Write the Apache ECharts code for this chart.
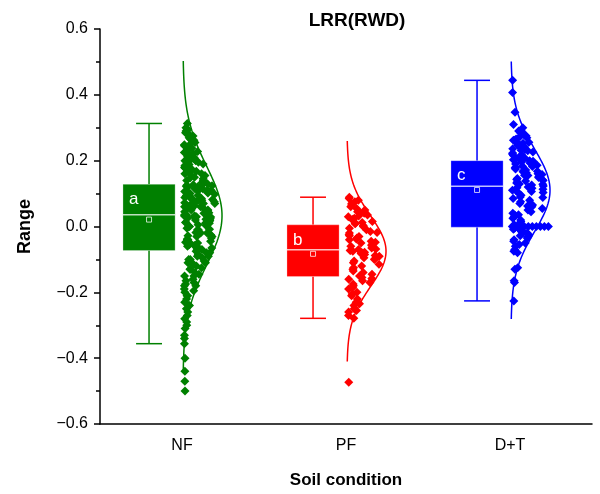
<!DOCTYPE html>
<html><head><meta charset="utf-8">
<script src="https://cdn.jsdelivr.net/npm/echarts@6/dist/echarts.min.js"></script>
<style>html,body{margin:0;padding:0;background:#fff}#c{width:600px;height:494px}</style>
</head><body><div id="c"></div>
<script>
// ---------- data ----------
const categories = ['NF', 'PF', 'D+T'];
const groupLetters = ['a', 'b', 'c'];
const colors = ['#008000', '#ff0000', '#0000ff'];
const boxMin    = [-0.356, -0.279, -0.226];
const boxQ1     = [-0.073, -0.152, -0.002];
const boxMedian = [ 0.036, -0.071,  0.122];
const boxQ3     = [ 0.128,  0.005,  0.200];
const boxMax    = [ 0.313,  0.089,  0.444];
const boxMean   = [ 0.021, -0.083,  0.111];
const fitMean   = [ 0.033, -0.075,  0.110];
const fitSD     = [ 0.150,  0.107,  0.125];
const yTicks = [-0.6, -0.4, -0.2, 0.0, 0.2, 0.4, 0.6];

const nfValues = [
  -0.50, -0.47, -0.44, -0.40, -0.356, -0.34, -0.33, -0.31, -0.30,
  -0.29, -0.28, -0.27, -0.26, -0.25, -0.24, -0.24, -0.23, -0.22, -0.21, -0.21, -0.20,
  -0.19, -0.18, -0.18, -0.17, -0.16, -0.15, -0.15, -0.14, -0.13, -0.13, -0.12, -0.11, -0.11, -0.10, -0.10, -0.09, -0.09, -0.08, -0.08,
  -0.07, -0.07, -0.065, -0.06, -0.06, -0.055, -0.05, -0.05, -0.045, -0.04, -0.04, -0.035, -0.03, -0.03, -0.025, -0.02, -0.02, -0.015, -0.01, -0.01,
  -0.005, 0.0, 0.0, 0.005, 0.01, 0.01, 0.012, 0.015, 0.018, 0.02, 0.02, 0.022, 0.025, 0.028, 0.03, 0.03, 0.032, 0.034, 0.035, 0.035,
  0.04, 0.04, 0.045, 0.048, 0.05, 0.05, 0.055, 0.06, 0.06, 0.062, 0.065, 0.068, 0.07, 0.07, 0.072, 0.075, 0.08, 0.08, 0.082, 0.085,
  0.09, 0.09, 0.092, 0.095, 0.098, 0.10, 0.10, 0.102, 0.105, 0.108, 0.11, 0.11, 0.112, 0.115, 0.118, 0.12, 0.12, 0.122, 0.125, 0.127,
  0.13, 0.135, 0.14, 0.14, 0.145, 0.15, 0.155, 0.16, 0.16, 0.165, 0.17, 0.175, 0.18, 0.18, 0.185, 0.19, 0.195, 0.20, 0.20, 0.205,
  0.21, 0.215, 0.22, 0.22, 0.225, 0.23, 0.235, 0.24, 0.245, 0.25, 0.255, 0.26, 0.265, 0.27, 0.275, 0.28, 0.285, 0.29, 0.30, 0.313,
  -0.195, -0.175, -0.165, -0.145, -0.125, -0.115, -0.105, -0.095, -0.085, -0.075,
  -0.068, -0.058, -0.048, -0.038, -0.028, -0.018, -0.008, 0.003, 0.013, 0.024, 0.029, 0.033,
  0.042, 0.052, 0.058, 0.064, 0.074, 0.078, 0.088, 0.094, 0.104, 0.106, 0.114, 0.117, 0.124, 0.126,
  0.133, 0.148, 0.158, 0.168, 0.178, 0.188, 0.198, 0.212, 0.228, 0.238, 0.248, 0.262, 0.278, 0.295
];
const pfValues = [
  -0.473, -0.279, -0.27, -0.26, -0.255, -0.25, -0.24, -0.235, -0.23, -0.22, -0.21, -0.205, -0.20, -0.19, -0.185, -0.18, -0.175, -0.17, -0.165, -0.16, -0.158, -0.155,
  -0.15, -0.145, -0.14, -0.135, -0.13, -0.125, -0.12, -0.115, -0.11, -0.105, -0.10, -0.098, -0.095, -0.09, -0.088, -0.085, -0.082, -0.08, -0.078, -0.075, -0.073, -0.072,
  -0.07, -0.068, -0.065, -0.06, -0.058, -0.055, -0.05, -0.048, -0.045, -0.04, -0.038, -0.035, -0.03, -0.028, -0.025, -0.02, -0.018, -0.015, -0.01, -0.005, 0.0, 0.003,
  0.008, 0.01, 0.012, 0.015, 0.02, 0.022, 0.025, 0.03, 0.032, 0.035, 0.04, 0.042, 0.045, 0.05, 0.055, 0.06, 0.065, 0.07, 0.075, 0.08, 0.085, 0.089
];
const dtValues = [
  -0.226, -0.17, -0.165, -0.13, -0.125, -0.08, -0.075, -0.07, -0.06, -0.055, -0.05, -0.045, -0.04, -0.035, -0.03, -0.028, -0.025, -0.02, -0.018, -0.015, -0.012, -0.01, -0.008, -0.005,
  0, 0, 0, 0, 0, 0, 0, 0, 0, 0,
  0.005, 0.01, 0.015, 0.02, 0.025, 0.03, 0.035, 0.04, 0.045, 0.05, 0.055, 0.06, 0.065, 0.07, 0.075, 0.08, 0.085, 0.09, 0.095, 0.10, 0.103, 0.106, 0.11, 0.113, 0.116, 0.12,
  0.123, 0.126, 0.129, 0.132, 0.135, 0.138, 0.14, 0.143, 0.146, 0.149, 0.152, 0.155, 0.158, 0.16, 0.163, 0.166, 0.169, 0.172, 0.175, 0.178, 0.18, 0.183, 0.186, 0.189, 0.19, 0.192, 0.194, 0.196, 0.198, 0.20,
  0.203, 0.206, 0.21, 0.213, 0.216, 0.22, 0.223, 0.226, 0.23, 0.233, 0.236, 0.24, 0.243, 0.246, 0.25, 0.253, 0.256, 0.26, 0.263, 0.266, 0.27, 0.273, 0.276, 0.28, 0.285, 0.29, 0.30, 0.347, 0.407, 0.444,
  0.036, 0.062, 0.088, 0.108, 0.118, 0.128, 0.142, 0.156, 0.168, 0.182, 0.208, 0.218, 0.232, 0.248, 0.262, 0.31
];
const groupValues = [nfValues, pfValues, dtValues];

// ---------- layout constants (in category units) ----------
const BOX_OFFSET = -0.201, BOX_HALF = 0.159, CAP_HALF = 0.079;
const CURVE_BASE = 0.006, CURVE_W = 0.238, CURVE_SPAN = 3.13;
const PT_BASE = 0.014;

// deterministic spread (bit-reversal order) for horizontal placement of overlapping points
function spreadFrac(i) {
  let f = 0, b = 0.5, n = i + 1;
  while (n > 0) { if (n & 1) f += b; b /= 2; n >>= 1; }
  return (f + (i % 7) * 0.0911) % 1;
}

function jitter(values, gi) {
  const counts = {}, seen = {};
  values.forEach(v => counts[v] = (counts[v] || 0) + 1);
  return values.map((v, i) => {
    const z = (v - fitMean[gi]) / fitSD[gi];
    const dens = Math.exp(-z * z / 2);
    let frac, w;
    if (counts[v] > 4) {
      const k = (seen[v] = (seen[v] || 0) + 1) - 1;
      frac = k / (counts[v] - 1); w = counts[v] * 0.022;
    } else {
      frac = Math.pow(spreadFrac(i * 3 + gi), 1.25);
      w = Math.max(CURVE_W * dens * 0.88, 0.01);
    }
    return [gi + PT_BASE + frac * w, v];
  });
}

const chart = echarts.init(document.getElementById('c'), null, {renderer: 'canvas'});
const FONT = 'Arial, "Liberation Sans", sans-serif';

const boxData = categories.map((c, i) => [i, boxMin[i], boxQ1[i], boxMedian[i], boxQ3[i], boxMax[i], boxMean[i]]);
const curveData = categories.map((c, i) => [i, fitMean[i], fitSD[i]]);

const series = [];
series.push({
  type: 'custom', xAxisIndex: 1, yAxisIndex: 0, z: 2,
  data: boxData, encode: {x: 0, y: [1, 2, 3, 4, 5, 6]},
  renderItem(params, api) {
    const gi = api.value(0);
    const col = colors[gi];
    const cx = api.coord([gi + BOX_OFFSET, 0])[0];
    const hw = api.size([BOX_HALF, 0])[0];
    const cw = api.size([CAP_HALF, 0])[0];
    const y = k => api.coord([gi, api.value(k)])[1];
    const yMin = y(1), yQ1 = y(2), yMed = y(3), yQ3 = y(4), yMax = y(5), yMean = y(6);
    const ls = {stroke: col, lineWidth: 1.5};
    const light = 'rgba(255,255,255,0.75)';
    return {type: 'group', children: [
      {type: 'line', shape: {x1: cx, y1: yQ3, x2: cx, y2: yMax}, style: ls},
      {type: 'line', shape: {x1: cx, y1: yQ1, x2: cx, y2: yMin}, style: ls},
      {type: 'line', shape: {x1: cx - cw, y1: yMax, x2: cx + cw, y2: yMax}, style: ls},
      {type: 'line', shape: {x1: cx - cw, y1: yMin, x2: cx + cw, y2: yMin}, style: ls},
      {type: 'rect', shape: {x: cx - hw, y: yQ3, width: 2 * hw, height: yQ1 - yQ3}, style: {fill: col, stroke: 'rgba(255,255,255,0.25)', lineWidth: 1}},
      {type: 'line', shape: {x1: cx - hw, y1: yMed, x2: cx + hw, y2: yMed}, style: {stroke: light, lineWidth: 1.5}},
      {type: 'rect', shape: {x: cx - 2.5, y: yMean - 2.5, width: 5, height: 5}, style: {fill: 'none', stroke: light, lineWidth: 1}},
      {type: 'text', x: cx - hw + 6, y: yQ3 + 15, style: {text: groupLetters[gi], fill: '#fff', font: '17px ' + FONT, verticalAlign: 'middle', align: 'left'}}
    ]};
  }
});

groupValues.forEach((vals, gi) => {
  series.push({
    type: 'scatter', xAxisIndex: 1, yAxisIndex: 0, z: 3,
    symbol: 'diamond', symbolSize: 9,
    itemStyle: {color: colors[gi], opacity: 1},
    data: jitter(vals, gi), silent: true
  });
});

series.push({
  type: 'custom', xAxisIndex: 1, yAxisIndex: 0, z: 4,
  data: curveData, encode: {x: 0, y: 1},
  renderItem(params, api) {
    const gi = api.value(0), mu = api.value(1), sd = api.value(2);
    const pts = [];
    const N = 120;
    for (let k = 0; k <= N; k++) {
      const z = -CURVE_SPAN + 2 * CURVE_SPAN * k / N;
      const v = mu + z * sd;
      pts.push(api.coord([gi + CURVE_BASE + CURVE_W * Math.exp(-z * z / 2), v]));
    }
    return {type: 'polyline', shape: {points: pts}, style: {stroke: colors[gi], lineWidth: 1.5, fill: 'none'}};
  }
});

chart.setOption({
  animation: false,
  backgroundColor: '#fff',
  title: {text: 'LRR(RWD)', left: 352, top: 6, textAlign: 'center',
    textStyle: {fontFamily: FONT, fontSize: 19, fontWeight: 'bold', color: '#000'}},
  grid: {left: 100, right: 8, top: 29, bottom: 70, containLabel: false},
  xAxis: [
    {type: 'category', data: categories, boundaryGap: true,
     name: 'Soil condition', nameLocation: 'middle', nameGap: 48,
     nameTextStyle: {fontFamily: FONT, fontSize: 17, fontWeight: 'bold', color: '#000'},
     axisLine: {onZero: false, lineStyle: {color: '#000', width: 1.5}},
     axisTick: {alignWithLabel: true, length: 5, lineStyle: {color: '#000', width: 1.5}},
     axisLabel: {fontFamily: FONT, fontSize: 16, color: '#000', margin: 14},
     splitLine: {show: false}},
    {type: 'value', min: -0.5, max: 2.5, show: false, axisLine: {onZero: false}}
  ],
  yAxis: {type: 'value', min: -0.6, max: 0.6, interval: 0.2,
    name: 'Range', nameLocation: 'middle', nameGap: 66, nameRotate: 90,
    nameTextStyle: {fontFamily: FONT, fontSize: 18, fontWeight: 'bold', color: '#000'},
    axisLine: {show: true, onZero: false, lineStyle: {color: '#000', width: 1.5}},
    axisTick: {show: true, length: 6, lineStyle: {color: '#000', width: 1.5}},
    minorTick: {show: true, splitNumber: 2, length: 4, lineStyle: {color: '#000', width: 1.5}},
    axisLabel: {fontFamily: FONT, fontSize: 16, color: '#000', margin: 12,
      formatter: v => {
        const t = yTicks.find(x => Math.abs(x - v) < 1e-9);
        const s = (t === undefined ? v : t).toFixed(1);
        return s.replace('-', '\u2212');
      }},
    splitLine: {show: false}},
  series
});
</script>
</body></html>
